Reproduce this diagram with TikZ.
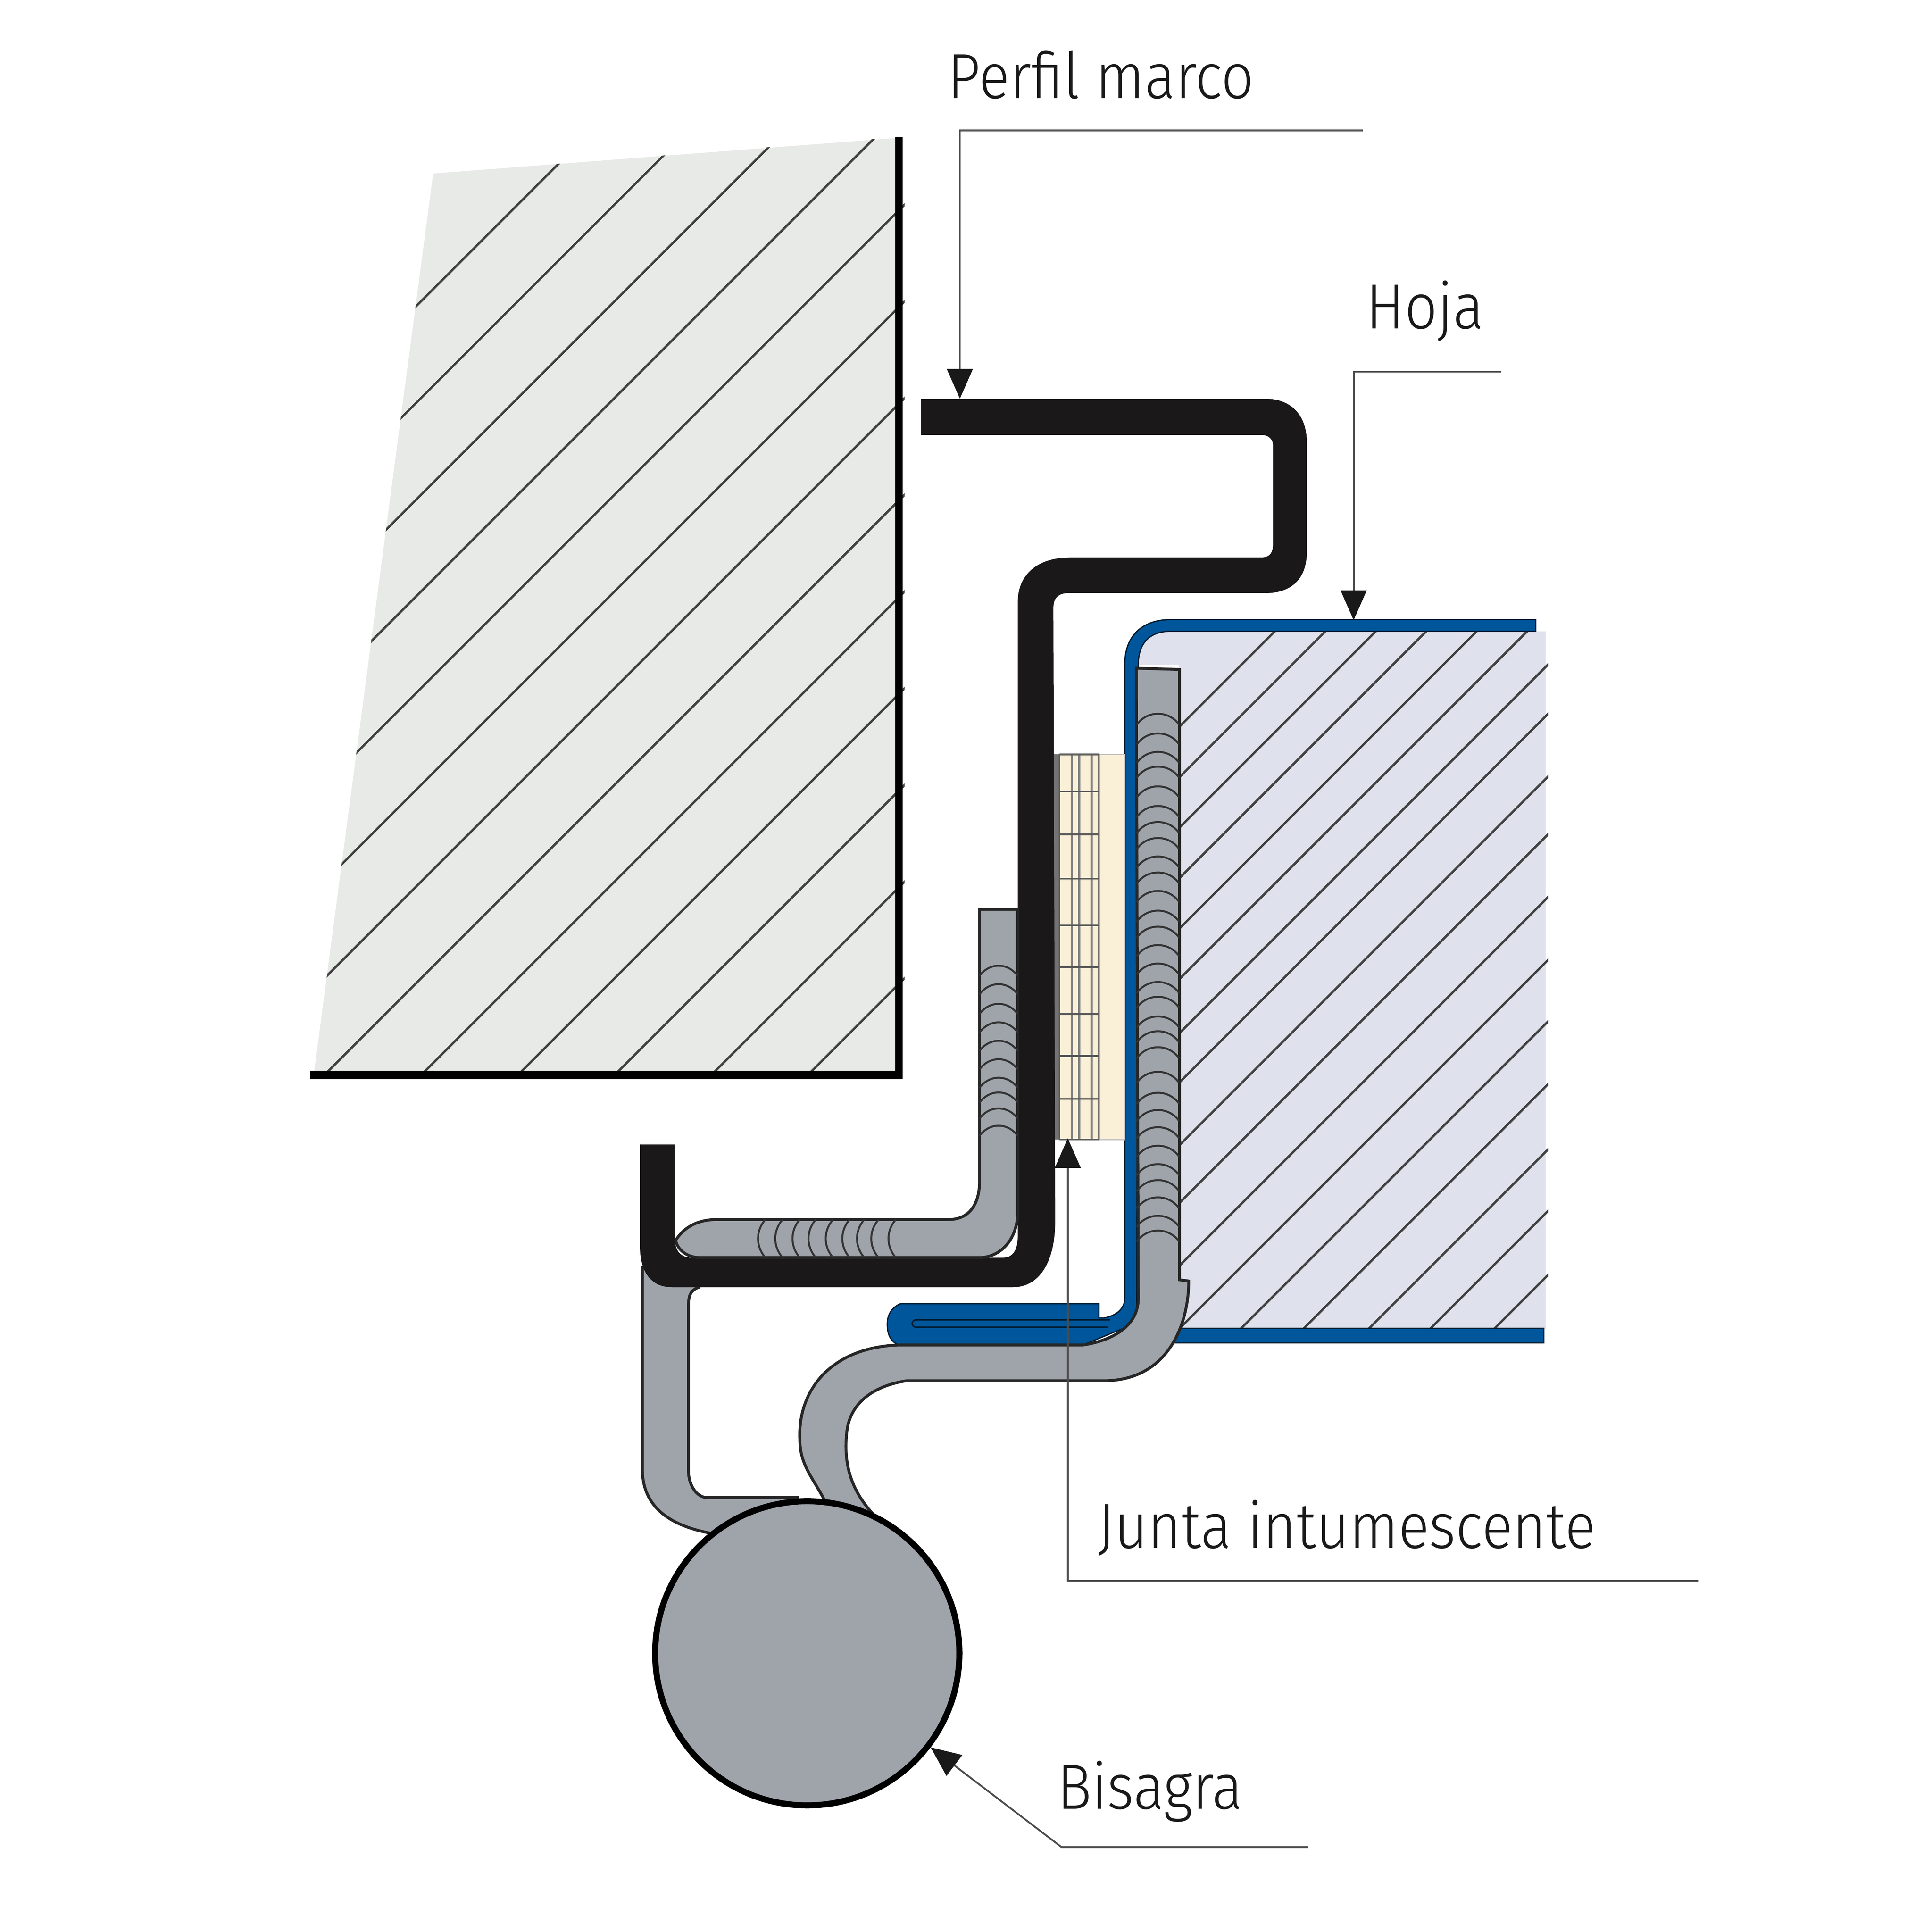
\documentclass[tikz,border=0pt]{standalone}
\usepackage{fontspec}
\setmainfont[FakeStretch=0.9]{Fira Sans Light}
\usetikzlibrary{arrows.meta}
\definecolor{wallfill}{HTML}{E8EAE7}
\definecolor{leaffill}{HTML}{DFE2EC}
\definecolor{steelgray}{HTML}{9FA3AA}
\definecolor{profileblack}{HTML}{1A1819}
\definecolor{leafblue}{HTML}{00569B}
\definecolor{sealcream}{HTML}{FAF0D8}
\tikzset{
    hatch-line/.style = {draw=black!75, line width=1.7pt},
    gray-part/.style = {fill=steelgray, draw=black!85, line width=2.1pt},
    weld-line/.style = {draw=black!80, line width=1.4pt},
    blue-part/.style = {fill=leafblue, draw=black!70!leafblue, line width=0.9pt},
    seal-line/.style = {draw=black!65, line width=1.3pt},
    leader-line/.style = {draw=black!70, line width=1.3pt, -{Triangle[length=22pt,width=19pt,color=black!90]}},
    label-text/.style = {anchor=base west, inner sep=0pt, text=black!90, font=\fontsize{47}{47}\selectfont},
}
\begin{document}
\begin{tikzpicture}[x=0.03185cm,y=-0.03185cm]
\useasboundingbox (0,0) rectangle (1570,1570);

% muro
\fill[wallfill] (352,141) -- (730,112) -- (730,873) -- (255,873) -- cycle;
\begin{scope}
\clip (352,141) -- (735,111) -- (735,873) -- (255,873) -- cycle;
\foreach \k in {587,665.6,744.2,822.8,901.4,980,1058.6,1137.2,1215.8,1294.4,1373,1451.6,1530}
    \draw[hatch-line] (\k-900,900) -- (\k-50,50);
\end{scope}
\fill[black] (727.5,111) rectangle (733.5,877);
\fill[black] (252,870) rectangle (733.5,877);

% hoja
\fill[leaffill] (925,540) .. controls (925,522) and (935,513) .. (951,513) -- (1256,513) -- (1256,1080) -- (958,1080) -- (958,540) -- cycle;
\begin{scope}
\clip (958.5,513) rectangle (1258,1079);
\foreach \k in {1549,1590,1631,1672,1713,1754,1798,1838,1889,1936,1987,2038,2088,2139,2192,2242,2294}
    \draw[hatch-line] (\k-1300,1300) -- (\k-500,500);
\end{scope}
\draw[blue-part] (950,1079.4) rectangle (1254.6,1091.4);
\draw[blue-part] (1248,503.5) -- (1248,513) -- (951,513) .. controls (935,513) and (925,522) .. (925,540) -- (923.7,1060) .. controls (923.7,1070) and (918,1077) .. (914,1079) -- (880,1093) -- (730,1093) .. controls (724,1090) and (721,1085) .. (721,1076) .. controls (721,1068) and (725,1062) .. (732,1059.4) -- (893,1059.4) -- (893,1071) -- (897,1071) .. controls (908,1069) and (914,1063) .. (914,1055) -- (914,540) .. controls (914,515) and (930,503.5) .. (951,503.5) -- cycle;
\draw[draw=black!70!leafblue, line width=1.1pt] (902,1072.5) -- (745,1072.5) .. controls (740,1072.5) and (740,1078.5) .. (745,1078.5) -- (900,1078.5);

% junta
\fill[black!55] (856,613) rectangle (861,926);
\draw[fill=sealcream, draw=black!25, line width=0.9pt] (861,613) rectangle (914,926);
\foreach \k in {871,877,887}
    \draw[draw=black!50, line width=1.7pt] (\k,613) -- (\k,926);
\foreach \k in {613,643,678,714,752,786,824,858,893,926}
    \draw[seal-line] (861,\k) -- (893,\k);
\draw[seal-line] (861,613) -- (861,926);
\draw[seal-line] (893,613) -- (893,926);

% bisagra
\draw[gray-part] (522,1030) -- (522,1194) .. controls (522,1225) and (545,1240) .. (578,1246) -- (648,1225) -- (648,1217) -- (575,1217) .. controls (565,1217) and (559.5,1205) .. (559.5,1196) -- (559.5,1060) .. controls (559.5,1052) and (562,1048) .. (568,1046) -- (568,1030) -- cycle;

\fill[profileblack] (748.6,324) -- (1028,324) .. controls (1050,324) and (1062,338) .. (1062,360) -- (1062,448) .. controls (1062,470) and (1050,482) .. (1028,482) -- (868,482) .. controls (860,482) and (856,486) .. (856,494) -- (857.5,992) .. controls (857.5,1025) and (845,1046) .. (823,1046) -- (546,1046) .. controls (530,1046) and (520,1035) .. (520,1012) -- (520,930) -- (548.6,930) -- (548.6,1008) .. controls (548.6,1016) and (553,1022) .. (562,1022) -- (815,1022) .. controls (823,1022) and (827,1016) .. (827,1005) -- (827,490) .. controls (827,465) and (845,453) .. (870,453) -- (1025,453) .. controls (1032,453) and (1034.5,449) .. (1034.5,442) -- (1034.5,362) .. controls (1034.5,357) and (1031,353.5) .. (1025,353.5) -- (748.6,353.5) -- cycle;

\draw[gray-part] (796,739) -- (827,739) -- (827,985) .. controls (827,1005) and (815,1022) .. (795,1022) -- (570,1022) .. controls (558,1022) and (551,1016) .. (549,1008) .. controls (556,997) and (567,991) .. (583,991) -- (771,991) .. controls (788,991) and (796,978) .. (796,960) -- cycle;
\foreach \k in {784,799,815,830,845,860,875,887,900,914}
    \draw[weld-line] (796,\k+9) .. controls (804,\k-2) and (819,\k-2) .. (827,\k+9);
\foreach \k in {617,631,645,658,672,685.5,697.4,709,723}
    \draw[weld-line] (\k+5,991) .. controls (\k-3,1000) and (\k-3,1013) .. (\k+5,1022);

\draw[gray-part] (923.4,543) -- (958.5,544) -- (958.5,1040) -- (966,1041) .. controls (966,1075) and (950,1122) .. (897,1122) -- (737,1122) .. controls (710,1126) and (690,1140) .. (688,1165) .. controls (685,1195) and (695,1215) .. (711,1232) -- (670,1219) .. controls (660,1200) and (650,1190) .. (650,1170) .. controls (648,1130) and (675,1095) .. (730,1093) -- (880,1093) .. controls (900,1090) and (925,1080) .. (925,1055) -- cycle;
\foreach \k in {579,595,610,622,638,654,667,680,695,708,723,739,752,767,782,797,809,825,837,850,870,887,901,915,930,945,958,972,987,999}
    \draw[weld-line] (923.8,\k+10) .. controls (932,\k-2) and (950,\k-2) .. (958.2,\k+10);

\node[circle, fill=steelgray, draw=black, line width=4.5pt, inner sep=0pt, minimum size=224pt] (hinge) at (656,1343.5) {};

% rotulos
\node[label-text] (perfil) at (770,80) {Perfil marco};
\node[label-text] (hoja) at (1110,267) {Hoja};
\node[label-text] (junta) at (892,1258) {Junta intumescente};
\node[label-text] (bisagra) at (859,1470) {Bisagra};

\coordinate (perfil-end) at (1107.5,106);
\coordinate (perfil-tip) at (780,324);
\coordinate (hoja-end) at (1220,302);
\coordinate (hoja-tip) at (1100,504);
\coordinate (junta-end) at (1380,1284.5);
\coordinate (junta-tip) at (867.7,925);
\coordinate (bisagra-end) at (1063,1501);
\coordinate (bisagra-kink) at (862.6,1501);

\draw[leader-line] (perfil-end) -| (perfil-tip);
\draw[leader-line] (hoja-end) -| (hoja-tip);
\draw[leader-line] (junta-end) -| (junta-tip);
\draw[leader-line] (bisagra-end) -- (bisagra-kink) -- (hinge);
\end{tikzpicture}
\end{document}
